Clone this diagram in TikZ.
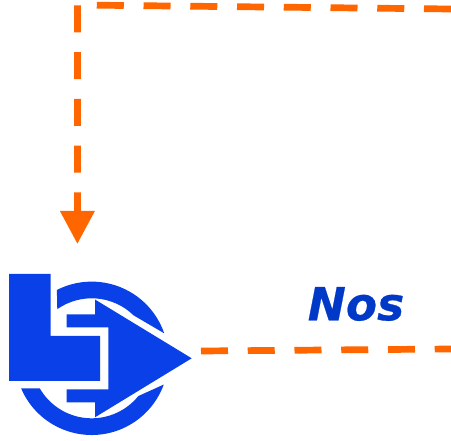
\documentclass[tikz,border=0pt]{standalone}
\usepackage{fontspec}
\setmainfont{DejaVu Sans}
\newfontfamily\nosfont[FakeBold=0.5,BoldFont={DejaVu Sans Bold},BoldItalicFont={DejaVu Sans Bold Oblique}]{DejaVu Sans}
\usetikzlibrary{arrows.meta,calc}
\definecolor{logoblue}{HTML}{0A40E8}
\definecolor{textblue}{HTML}{0038C8}
\definecolor{dashorange}{HTML}{FF6600}
\tikzset{
  flowline/.style={draw=dashorange, line width=6.7pt, dash pattern=on 27pt off 19.75pt},
  logopart/.style={fill=logoblue, draw=none},
  nostext/.style={text=textblue, font=\nosfont\fontsize{45.5}{46}\selectfont\bfseries\itshape, inner sep=0pt}
}
\begin{document}
\begin{tikzpicture}[x=1pt,y=1pt]
    \useasboundingbox (0,0) rectangle (451,-441);

    % Connector ends
    \coordinate (rightA) at (451,-9);
    \coordinate (corner) at (77.4,-5);
    \coordinate (entry) at (77.4,-244);
    \coordinate (logotip) at (201,-351);
    \coordinate (rightB) at (451,-349);
    \coordinate (ringc) at (91.7,-358.3);

    % Incoming line
    \draw[flowline, -{Triangle[length=33pt,width=33pt]}, dashorange] (rightA) -- (corner) -- (entry);

    % Outgoing line
    \draw[flowline] (logotip) -- (rightB);

    % Ring, upper and lower part
    \fill[logopart] ($(ringc)+(117:76.7)$) arc[start angle=117,end angle=19,radius=76.7]
        -- ($(ringc)+(45.7:60)$) arc[start angle=45.7,end angle=125,radius=60] -- cycle;
    \fill[logopart] ($(ringc)+(203:76.7)$) arc[start angle=203,end angle=340,radius=76.7]
        -- ($(ringc)+(321:60)$) arc[start angle=321,end angle=210,radius=60] -- cycle;

    % L block
    \fill[logopart] (9,-274) -- (50.5,-274) -- (50.5,-336) -- (100,-336) -- (100,-381) -- (9,-381) -- cycle;

    % Arrow block
    \fill[logopart] (95,-299.5) -- (191.7,-358.3) -- (95,-417.3) -- (95,-402.3) -- (66.7,-402.3)
        -- (66.7,-389.3) -- (108.3,-389.3) -- (108.3,-327.3) -- (66.7,-327.3) -- (66.7,-314.3)
        -- (95,-314.3) -- cycle;

    % Label
    \node[nostext] (nos) at (356,-304) {Nos};
\end{tikzpicture}
\end{document}
